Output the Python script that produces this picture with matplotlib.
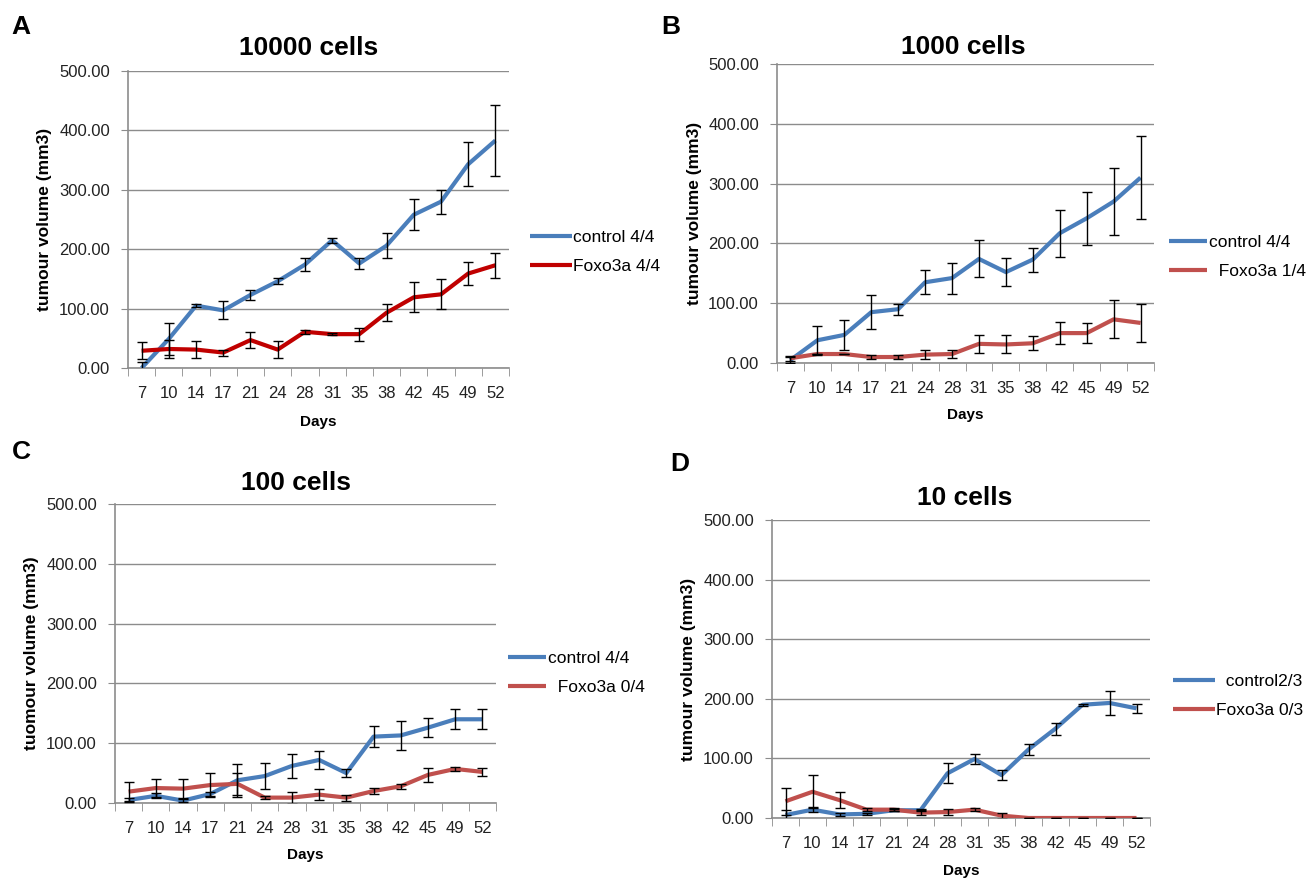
import matplotlib
matplotlib.use('Agg')
import matplotlib.pyplot as plt
import numpy as np

plt.rcParams['font.family'] = ['Liberation Sans', 'DejaVu Sans']

days = ['7', '10', '14', '17', '21', '24', '28', '31', '35', '38', '42', '45', '49', '52']

# panel A - 10000 cells
ctrl_a = [0, 49, 105, 97, 123, 146, 174, 215, 176, 206, 258, 280, 343, 383]
ctrl_a_err = [10, 27, 3, 15, 8, 5, 11, 4, 9, 21, 26, 20, 37, 59]
foxo_a = [29, 32, 31, 26, 47, 31, 61, 57, 57, 93, 119, 124, 159, 173]
foxo_a_err = [14, 15, 15, 5, 13, 15, 3, 2, 11, 14, 25, 25, 20, 21]

# panel B - 1000 cells
ctrl_b = [5, 38, 47, 85, 90, 135, 142, 174, 152, 173, 217, 242, 270, 310]
ctrl_b_err = [5, 24, 25, 28, 9, 20, 26, 31, 24, 20, 39, 44, 56, 70]
foxo_b = [8, 15, 15, 10, 10, 14, 15, 32, 31, 33, 50, 50, 73, 67]
foxo_b_err = [4, 0, 0, 3, 3, 8, 7, 15, 15, 12, 19, 17, 32, 32]

# panel C - 100 cells
ctrl_c = [5, 12, 4, 15, 38, 45, 62, 72, 50, 111, 113, 126, 140, 140]
ctrl_c_err = [3, 4, 2, 3, 28, 22, 20, 15, 7, 17, 24, 16, 17, 17]
foxo_c = [19, 25, 24, 30, 32, 9, 9, 14, 9, 20, 28, 47, 57, 52]
foxo_c_err = [16, 15, 16, 20, 18, 3, 10, 9, 5, 5, 4, 12, 4, 7]

# panel D - 10 cells
ctrl_d = [5, 14, 6, 7, 13, 13, 75, 99, 72, 115, 150, 190, 193, 184]
ctrl_d_err = [8, 4, 3, 2, 2, 2, 17, 9, 8, 10, 10, 2, 20, 7]
foxo_d = [28, 44, 30, 14, 14, 9, 10, 14, 4, 0, 0, 0, 0, 0]
foxo_d_err = [23, 28, 13, 2, 2, 4, 5, 2, 5, 0, 0, 0, 0, 0]

blue = '#4a7ebb'
red_dark = '#c00000'
red = '#c0504d'
grey = '#8c8c8c'

W, H = 1309, 880
fig = plt.figure(figsize=(W / 100, H / 100), dpi=100)


def px_axes(left, right, top, bottom):
    return fig.add_axes([left / W, 1 - bottom / H, (right - left) / W, (bottom - top) / H])


def draw_panel(ax, ctrl, ctrl_err, foxo, foxo_err, labels, foxo_col, ylab, leg_xy, handlelen, days_y):
    x = np.arange(len(days))
    ax.plot(x, ctrl, color=blue, lw=3, label=labels[0], zorder=3, solid_capstyle='butt')
    ax.plot(x, foxo, color=foxo_col, lw=3, label=labels[1], zorder=3, solid_capstyle='butt')
    ax.errorbar(x, ctrl, yerr=ctrl_err, fmt='none', ecolor='black', elinewidth=1,
                capsize=3.5, capthick=1, zorder=4)
    ax.errorbar(x, foxo, yerr=foxo_err, fmt='none', ecolor='black', elinewidth=1,
                capsize=3.5, capthick=1, zorder=4)
    ax.set_xlim(-0.5, len(days) - 0.5)
    ax.set_ylim(0, 500)
    ax.set_yticks(range(0, 501, 100))
    ax.set_yticklabels(['%.2f' % v for v in range(0, 501, 100)], fontsize=12, color='#222222')
    ax.set_xticks(x)
    ax.set_xticklabels(days, fontsize=12, color='#222222')
    ax.set_xticks(np.arange(-0.5, len(days)), minor=True)
    ax.tick_params(axis='x', which='major', length=0, pad=13)
    ax.tick_params(axis='x', which='minor', length=6, color=grey, direction='out')
    ax.tick_params(axis='y', length=5, color=grey, pad=8)
    ax.grid(axis='y', color=grey, lw=1)
    ax.set_axisbelow(True)
    for s in ['top', 'right']:
        ax.spines[s].set_visible(False)
    for s in ['left', 'bottom']:
        ax.spines[s].set_color(grey)
        ax.spines[s].set_linewidth(1.2)
    ax.set_ylabel(ylab, fontsize=12.5, fontweight='bold', va='center')
    ax.yaxis.set_label_coords(-0.22, 0.5)
    ax.set_xlabel('Days', fontsize=11, fontweight='bold', va='center')
    ax.xaxis.set_label_coords(0.5, days_y)
    ax.legend(loc='center left', bbox_to_anchor=(leg_xy[0] / W, 1 - leg_xy[1] / H),
              bbox_transform=fig.transFigure, frameon=False, fontsize=12.5,
              handlelength=handlelen, handletextpad=0.1, labelspacing=0.75, borderpad=0,
              borderaxespad=0)


axA = px_axes(128, 509, 71, 368)
draw_panel(axA, ctrl_a, ctrl_a_err, foxo_a, foxo_a_err, ['control 4/4', 'Foxo3a 4/4'],
           red_dark, 'tumour volume (mm3)', (530, 252), 2.4, -0.182)
axB = px_axes(777, 1154, 64, 363)
draw_panel(axB, ctrl_b, ctrl_b_err, foxo_b, foxo_b_err, ['control 4/4', '  Foxo3a 1/4'],
           red, 'tumour volume (mm3)', (1169, 257), 2.2, -0.174)
axC = px_axes(115, 496, 504, 803)
draw_panel(axC, ctrl_c, ctrl_c_err, foxo_c, foxo_c_err, ['control 4/4', '  Foxo3a 0/4'],
           red, 'tuomour volume (mm3)', (508, 673), 2.2, -0.174)
axD = px_axes(772, 1150, 520, 818)
draw_panel(axD, ctrl_d, ctrl_d_err, foxo_d, foxo_d_err, ['  control2/3', 'Foxo3a 0/3'],
           red, 'tumour volume (mm3)', (1173, 696), 2.4, -0.178)

# titles and panel letters
titles = ['10000 cells', '1000 cells', '100 cells', '10 cells']
title_xy = [(309, 48), (963, 47), (296, 483), (965, 498)]
for t, (tx, ty) in zip(titles, title_xy):
    fig.text(tx / W, 1 - ty / H, t, ha='center', va='center', fontsize=19, fontweight='bold')

letters = ['A', 'B', 'C', 'D']
letter_xy = [(21, 27), (671, 27), (21, 452), (680, 464)]
for l, (lx, ly) in zip(letters, letter_xy):
    fig.text(lx / W, 1 - ly / H, l, ha='center', va='center', fontsize=19, fontweight='bold')

fig.savefig('out.png', dpi=100)
